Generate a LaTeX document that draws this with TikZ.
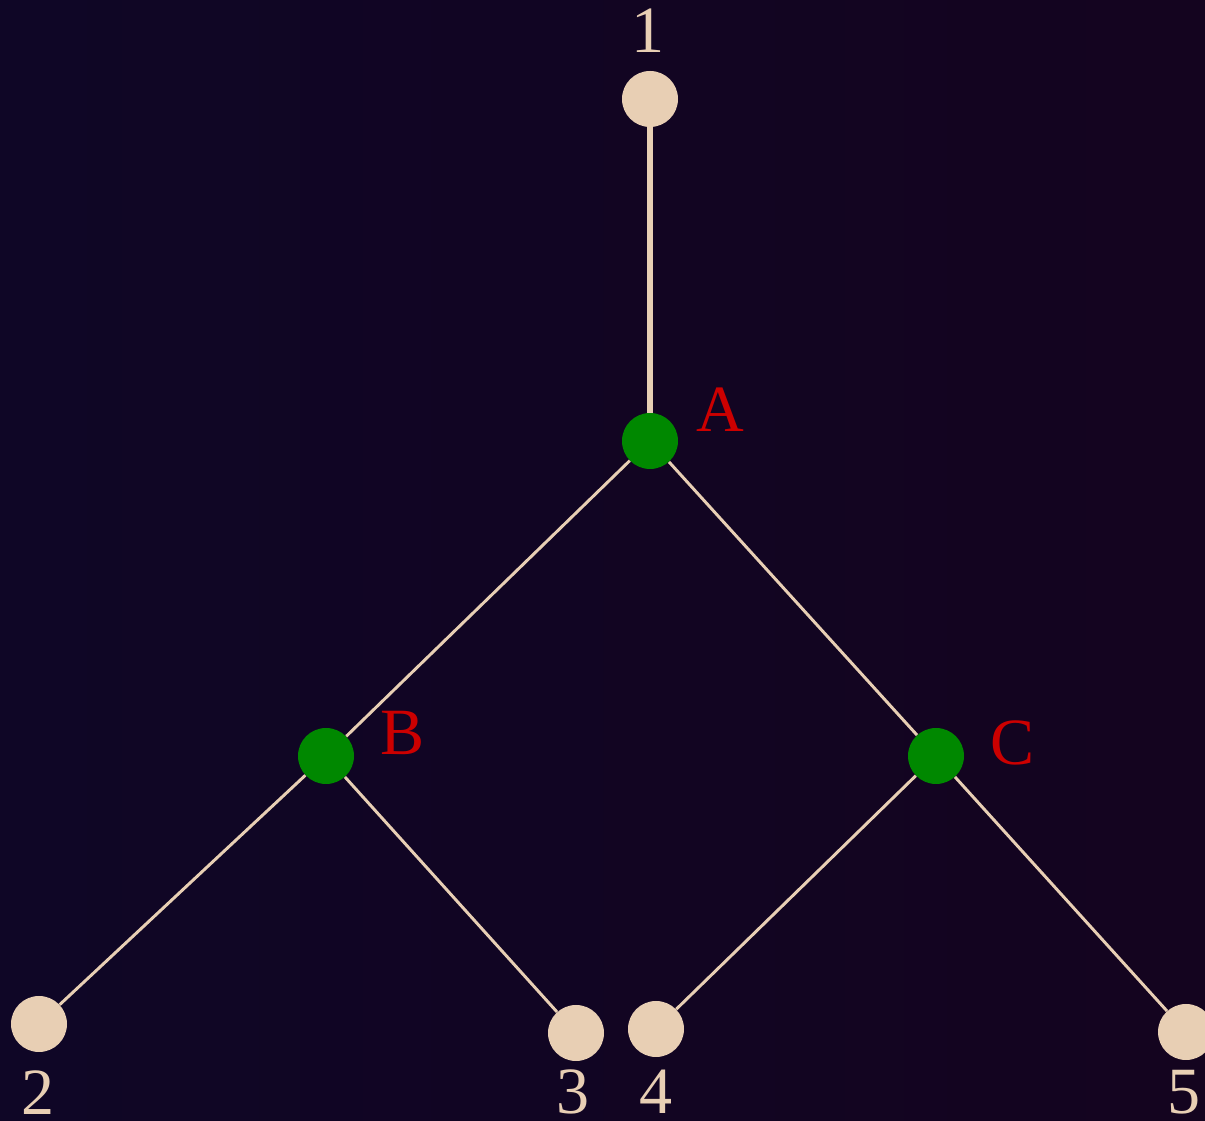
\documentclass[tikz,border=0pt]{standalone}
\usepackage{fontspec}
\setmainfont{Liberation Serif}
\usepackage{tikz}
\usetikzlibrary{positioning}
\definecolor{bgleft}{HTML}{0F0626}
\definecolor{bgright}{HTML}{14041F}
\definecolor{sand}{HTML}{E8CFB4}
\definecolor{leafgreen}{HTML}{008800}
\definecolor{tagred}{HTML}{CC0000}
\tikzset{%
  leaf/.style = {circle,fill=sand,draw=none,inner sep=0pt,minimum size=1.4cm},
  inner/.style = {circle,fill=leafgreen,draw=none,inner sep=0pt,minimum size=1.4cm},
  num/.style = {text=sand,inner sep=0pt,font=\fontsize{47}{50}\selectfont},
  tag/.style = {text=tagred,inner sep=0pt,font=\fontsize{47}{50}\selectfont},
  branch/.style = {draw=sand,line width=2.1pt},
  stem/.style = {draw=sand,line width=4.3pt}
}

\begin{document}
\begin{tikzpicture}
        % background
        \shade[left color=bgleft,right color=bgright] (0,0) rectangle (30.125,28.025);
        \useasboundingbox (0,0) rectangle (30.125,28.025);
        % tree nodes
        \node[leaf] (n1) at (16.25,25.55) {};
        \node[inner] (a) at (16.25,17.0) {};
        \node[inner] (b) at (8.15,9.125) {};
        \node[inner] (c) at (23.4,9.125) {};
        \node[leaf] (n2) at (0.975,2.425) {};
        \node[leaf] (n3) at (14.4,2.2) {};
        \node[leaf] (n4) at (16.4,2.3) {};
        \node[leaf] (n5) at (29.65,2.225) {};
        % edges
        \draw[stem] (n1) -- (a);
        \draw[branch] (a) -- (b);
        \draw[branch] (a) -- (c);
        \draw[branch] (b) -- (n2);
        \draw[branch] (b) -- (n3);
        \draw[branch] (c) -- (n4);
        \draw[branch] (c) -- (n5);
        % leaf numbers
        \node[num] (l1) at (16.2,27.25) {1};
        \node[num] (l2) at (0.95,0.72) {2};
        \node[num] (l3) at (14.33,0.72) {3};
        \node[num] (l4) at (16.4,0.72) {4};
        \node[num] (l5) at (29.6,0.72) {5};
        % inner labels
        \node[tag] (ta) at (18.0,17.775) {A};
        \node[tag] (tb) at (10.075,9.7) {B};
        \node[tag] (tc) at (25.325,9.46) {C};
    \end{tikzpicture}
\end{document}
